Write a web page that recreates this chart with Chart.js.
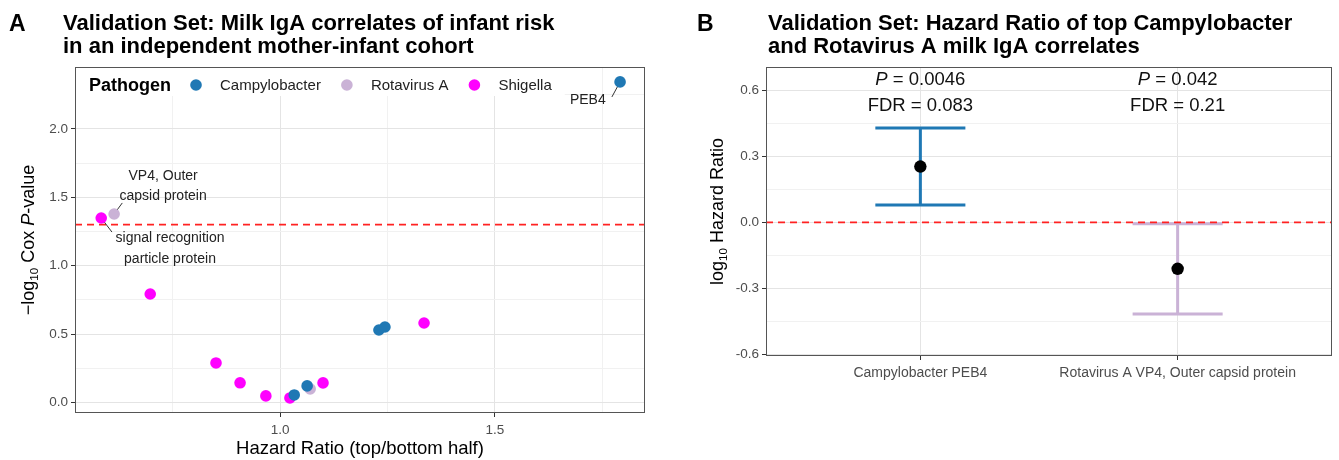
<!DOCTYPE html>
<html>
<head>
<meta charset="utf-8">
<script src="https://cdn.jsdelivr.net/npm/chart.js@4.4.1/dist/chart.umd.min.js"></script>
<style>
  body { margin: 0; background: #fff; width: 1339px; height: 460px; overflow: hidden; position: relative; }
  canvas { position: absolute; top: 0; }
  #chartA { left: 0; }
  #chartB { left: 670px; }
</style>
</head>
<body>
<canvas id="chartA" width="670" height="460"></canvas>
<canvas id="chartB" width="669" height="460"></canvas>
<script>
var FONT = '"Liberation Sans", Arial, Helvetica, sans-serif';

// ---- panel A: hazard ratio vs -log10 Cox p-value ----
var pathogens = ['Campylobacter', 'Rotavirus A', 'Shigella'];
var pathogenColors = ['#1F78B4', '#CAB2D6', '#FF00FF'];
var campyHR   = [1.791, 1.033, 1.063, 1.230, 1.244];
var campyLogP = [2.344, 0.055, 0.121, 0.530, 0.552];
var rotaHR    = [0.614, 1.070];
var rotaLogP  = [1.378, 0.099];
var shigHR    = [0.584, 0.698, 0.851, 0.907, 0.967, 1.023, 1.100, 1.335];
var shigLogP  = [1.349, 0.793, 0.289, 0.144, 0.048, 0.033, 0.143, 0.581];
var xTicksA = [1.0, 1.5];
var xMinorA = [0.75, 1.25, 1.75];
var yTicksA = [0, 0.5, 1.0, 1.5, 2.0];
var yMinorA = [0.25, 0.75, 1.25, 1.75, 2.25];
var pThreshold = 1.301; // -log10(0.05)

// ---- panel B: log10 hazard ratio of the two top hits ----
var antigens  = ['Campylobacter PEB4', 'Rotavirus A VP4, Outer capsid protein'];
var logHR     = [0.253, -0.211];
var logHRLow  = [0.078, -0.416];
var logHRHigh = [0.428, -0.007];
var pValues   = ['0.0046', '0.042'];
var fdrValues = ['0.083', '0.21'];
var barColors = ['#1F78B4', '#CAB2D6'];
var yTicksB = [-0.6, -0.3, 0, 0.3, 0.6];
var yMinorB = [-0.45, -0.15, 0.15, 0.45];

// repel-style labels in panel A (data units)
var pointLabels = [
  { lines: ['PEB4'], x: 1.716, y: 2.212, from: [1.772, 2.234], to: [campyHR[0], campyLogP[0]] },
  { lines: ['VP4, Outer', 'capsid protein'], x: 0.728, y: 1.58, from: [0.633, 1.459], to: [rotaHR[0], rotaLogP[0]] },
  { lines: ['signal recognition', 'particle protein'], x: 0.744, y: 1.123, from: [0.609, 1.246], to: [shigHR[0], shigLogP[0]] }
];

function isMajor(list, v) {
  return list.some(function(t) { return Math.abs(t - v) < 1e-6; });
}

function toPoints(xs, ys) {
  return xs.map(function(x, i) { return { x: x, y: ys[i] }; });
}

function axisOpts(min, max, majors, minors, labelFn, fitSize, isX, fontSize) {
  return {
    type: 'linear', min: min, max: max,
    afterBuildTicks: function(s) {
      s.ticks = majors.concat(minors).sort(function(a, b) { return a - b; })
        .map(function(v) { return { value: v }; });
    },
    afterFit: function(s) { if (isX) s.height = fitSize; else s.width = fitSize; },
    border: { display: false },
    grid: {
      color: function(c) { return c.tick && isMajor(majors, c.tick.value) ? '#E4E4E4' : '#F1F1F1'; },
      tickColor: function(c) { return c.tick && isMajor(majors, c.tick.value) ? '#333333' : 'rgba(0,0,0,0)'; },
      tickLength: 4,
      lineWidth: 1
    },
    ticks: {
      autoSkip: false, maxRotation: 0, minRotation: 0,
      padding: isX ? 5 : 3,
      color: '#4D4D4D',
      font: { family: FONT, size: fontSize },
      callback: function(v) { return isMajor(majors, v) ? labelFn(v) : ''; }
    }
  };
}

// draw text pieces with mixed fonts (subscripts, italics); cy is the baseline
function drawRuns(ctx, runs, cx, cy, angle) {
  ctx.save();
  ctx.translate(cx, cy);
  ctx.rotate(angle || 0);
  ctx.textAlign = 'left';
  ctx.textBaseline = 'alphabetic';
  var total = 0;
  runs.forEach(function(r) { ctx.font = r.font; r.w = ctx.measureText(r.text).width; total += r.w; });
  var x = -total / 2;
  runs.forEach(function(r) {
    ctx.font = r.font;
    ctx.fillText(r.text, x, r.dy || 0);
    x += r.w;
  });
  ctx.restore();
}

function drawTitle(ctx, letter, lines, letterX, textX) {
  ctx.save();
  ctx.fillStyle = '#000';
  ctx.textAlign = 'left';
  ctx.textBaseline = 'alphabetic';
  ctx.font = 'bold 23px ' + FONT;
  ctx.fillText(letter, letterX, 31);
  ctx.font = 'bold 22px ' + FONT;
  ctx.fillText(lines[0], textX, 30);
  ctx.fillText(lines[1], textX, 53);
  ctx.restore();
}

function drawBorder(ctx, a) {
  ctx.save();
  ctx.strokeStyle = '#555555';
  ctx.lineWidth = 1;
  ctx.strokeRect(Math.round(a.left) + 0.5, Math.round(a.top) + 0.5,
    Math.round(a.right - a.left) - 1, Math.round(a.bottom - a.top) - 1);
  ctx.restore();
}

function drawHLine(ctx, a, y) {
  ctx.save();
  ctx.strokeStyle = '#FF2222';
  ctx.lineWidth = 1.8;
  ctx.setLineDash([7, 5]);
  ctx.beginPath();
  ctx.moveTo(a.left, y);
  ctx.lineTo(a.right, y);
  ctx.stroke();
  ctx.restore();
}

var panelA = {
  id: 'panelA',
  beforeDatasetsDraw: function(chart) {
    var ctx = chart.ctx, a = chart.chartArea, xs = chart.scales.x, ys = chart.scales.y;
    drawHLine(ctx, a, ys.getPixelForValue(pThreshold));

    // label segments (points sit on top of them)
    ctx.save();
    ctx.strokeStyle = '#333';
    ctx.lineWidth = 1;
    pointLabels.forEach(function(l) {
      ctx.beginPath();
      ctx.moveTo(xs.getPixelForValue(l.from[0]), ys.getPixelForValue(l.from[1]));
      ctx.lineTo(xs.getPixelForValue(l.to[0]), ys.getPixelForValue(l.to[1]));
      ctx.stroke();
    });
    ctx.restore();

    // legend inside the panel
    ctx.save();
    ctx.font = 'bold 18px ' + FONT;
    var x = a.left + 14, cy = a.top + 18;
    var parts = [];
    var titleW = ctx.measureText('Pathogen').width;
    var end = x + titleW;
    ctx.font = '15px ' + FONT;
    pathogens.forEach(function(p, i) {
      var dotX = end + (i === 0 ? 25 : 26);
      var labX = dotX + 24;
      var w = ctx.measureText(p).width;
      parts.push({ dotX: dotX, labX: labX, text: p, color: pathogenColors[i] });
      end = labX + w;
    });
    ctx.fillStyle = '#fff';
    ctx.fillRect(a.left + 1, a.top + 1, end + 12 - a.left, 28);
    ctx.fillStyle = '#000';
    ctx.textBaseline = 'middle';
    ctx.font = 'bold 18px ' + FONT;
    ctx.fillText('Pathogen', x, cy + 1);
    ctx.font = '15px ' + FONT;
    parts.forEach(function(p) {
      ctx.fillStyle = p.color;
      ctx.beginPath();
      ctx.arc(p.dotX, cy, 5.8, 0, Math.PI * 2);
      ctx.fill();
      ctx.fillStyle = '#222';
      ctx.fillText(p.text, p.labX, cy + 1);
    });
    ctx.restore();
  },
  afterDatasetsDraw: function(chart) {
    var ctx = chart.ctx, a = chart.chartArea, xs = chart.scales.x, ys = chart.scales.y;
    ctx.save();
    ctx.fillStyle = '#222';
    ctx.font = '14px ' + FONT;
    ctx.textAlign = 'center';
    ctx.textBaseline = 'middle';
    pointLabels.forEach(function(l) {
      var px = xs.getPixelForValue(l.x), py = ys.getPixelForValue(l.y);
      var gap = 20.5;
      l.lines.forEach(function(t, i) {
        ctx.fillText(t, px, py + (i - (l.lines.length - 1) / 2) * gap);
      });
    });
    ctx.restore();
    drawBorder(ctx, a);
  },
  afterDraw: function(chart) {
    var ctx = chart.ctx, a = chart.chartArea;
    drawTitle(ctx, 'A', ['Validation Set: Milk IgA correlates of infant risk',
      'in an independent mother-infant cohort'], 9, 63);
    ctx.fillStyle = '#000';
    drawRuns(ctx, [
      { text: '\u2212log', font: '18px ' + FONT },
      { text: '10', font: '11.5px ' + FONT, dy: 4 },
      { text: ' Cox ', font: '18px ' + FONT },
      { text: 'P', font: 'italic 18px ' + FONT },
      { text: '-value', font: '18px ' + FONT }
    ], 34, (a.top + a.bottom) / 2, -Math.PI / 2);
    drawRuns(ctx, [{ text: 'Hazard Ratio (top/bottom half)', font: '18.5px ' + FONT }],
      (a.left + a.right) / 2, 454, 0);
  }
};

var panelB = {
  id: 'panelB',
  beforeDatasetsDraw: function(chart) {
    var ctx = chart.ctx, xs = chart.scales.x, ys = chart.scales.y;
    var capHalf = 0.175;
    ctx.save();
    ctx.lineWidth = 3;
    antigens.forEach(function(name, i) {
      var cx = xs.getPixelForValue(i + 1);
      var yLo = ys.getPixelForValue(logHRLow[i]);
      var yHi = ys.getPixelForValue(logHRHigh[i]);
      var xl = xs.getPixelForValue(i + 1 - capHalf), xr = xs.getPixelForValue(i + 1 + capHalf);
      ctx.strokeStyle = barColors[i];
      ctx.beginPath();
      ctx.moveTo(cx, yLo); ctx.lineTo(cx, yHi);
      ctx.moveTo(xl, yLo); ctx.lineTo(xr, yLo);
      ctx.moveTo(xl, yHi); ctx.lineTo(xr, yHi);
      ctx.stroke();
    });
    ctx.restore();
  },
  afterDatasetsDraw: function(chart) {
    var ctx = chart.ctx, a = chart.chartArea, xs = chart.scales.x, ys = chart.scales.y;
    drawHLine(ctx, a, ys.getPixelForValue(0));
    ctx.fillStyle = '#111';
    antigens.forEach(function(name, i) {
      var cx = xs.getPixelForValue(i + 1);
      drawRuns(ctx, [
        { text: 'P', font: 'italic 18.5px ' + FONT },
        { text: ' = ' + pValues[i], font: '18.5px ' + FONT }
      ], cx, ys.getPixelForValue(0.623), 0);
      drawRuns(ctx, [{ text: 'FDR = ' + fdrValues[i], font: '18.5px ' + FONT }],
        cx, ys.getPixelForValue(0.505), 0);
    });
    drawBorder(ctx, a);
  },
  afterDraw: function(chart) {
    var ctx = chart.ctx, a = chart.chartArea;
    drawTitle(ctx, 'B', ['Validation Set: Hazard Ratio of top Campylobacter',
      'and Rotavirus A milk IgA correlates'], 27, 98);
    ctx.fillStyle = '#000';
    drawRuns(ctx, [
      { text: 'log', font: '18px ' + FONT },
      { text: '10', font: '11.5px ' + FONT, dy: 4 },
      { text: ' Hazard Ratio', font: '18px ' + FONT }
    ], 53, (a.top + a.bottom) / 2, -Math.PI / 2);
  }
};

var chartA = new Chart(document.getElementById('chartA'), {
  type: 'scatter',
  data: {
    datasets: [
      { label: pathogens[1], data: toPoints(rotaHR, rotaLogP), backgroundColor: pathogenColors[1], order: 3 },
      { label: pathogens[2], data: toPoints(shigHR, shigLogP), backgroundColor: pathogenColors[2], order: 2 },
      { label: pathogens[0], data: toPoints(campyHR, campyLogP), backgroundColor: pathogenColors[0], order: 1 }
    ]
  },
  options: {
    responsive: false,
    animation: false,
    events: [],
    layout: { padding: { top: 67, right: 25, left: 0, bottom: 0 } },
    elements: { point: { radius: 5.8, borderWidth: 0 } },
    plugins: { legend: { display: false }, tooltip: { enabled: false } },
    scales: {
      x: axisOpts(0.523, 1.849, xTicksA, xMinorA, function(v) { return v.toFixed(1); }, 47, true, 13.5),
      y: axisOpts(-0.077, 2.453, yTicksA, yMinorA, function(v) { return v.toFixed(1); }, 75, false, 13.5)
    }
  },
  plugins: [panelA]
});

var chartB = new Chart(document.getElementById('chartB'), {
  type: 'scatter',
  data: {
    datasets: [{
      label: 'log10 HR',
      data: antigens.map(function(n, i) { return { x: i + 1, y: logHR[i] }; }),
      backgroundColor: '#000'
    }]
  },
  options: {
    responsive: false,
    animation: false,
    events: [],
    layout: { padding: { top: 67, right: 7, left: 0, bottom: 0 } },
    elements: { point: { radius: 6.2, borderWidth: 0 } },
    plugins: { legend: { display: false }, tooltip: { enabled: false } },
    scales: {
      x: axisOpts(0.4, 2.6, [1, 2], [], function(v) { return antigens[Math.round(v) - 1]; }, 104, true, 14),
      y: axisOpts(-0.607, 0.705, yTicksB, yMinorB, function(v) { return v.toFixed(1); }, 96, false, 13.5)
    }
  },
  plugins: [panelB]
});
</script>
</body>
</html>
